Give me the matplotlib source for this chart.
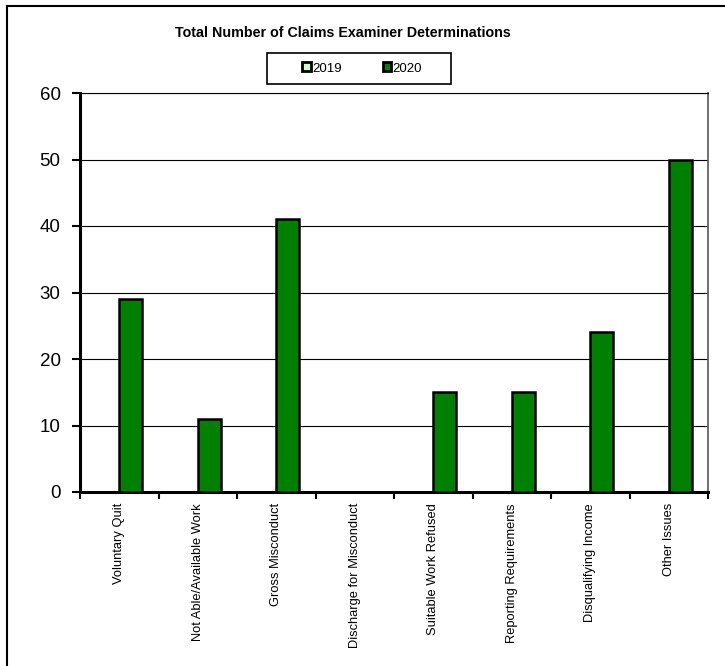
import numpy as np
import matplotlib
matplotlib.use("Agg")
import matplotlib.pyplot as plt
from matplotlib.patches import Rectangle, Patch
from matplotlib.lines import Line2D

plt.rcParams['font.family'] = ['Liberation Sans', 'DejaVu Sans']

categories = ['Voluntary Quit', 'Not Able/Available Work', 'Gross Misconduct',
              'Discharge for Misconduct', 'Suitable Work Refused',
              'Reporting Requirements', 'Disqualifying Income', 'Other Issues']
vals_2019 = [0, 0, 0, 0, 0, 0, 0, 0]
vals_2020 = [29, 11, 41, 0, 15, 15, 24, 50]
years = ['2019', '2020']
colors = ['#ccffcc', '#008000']

fig = plt.figure(figsize=(7.25, 6.66), dpi=100)
ax = fig.add_axes([80 / 725, 1 - 492 / 666, 628 / 725, 399 / 666])

x = np.arange(len(categories))
w = 0.29
ax.bar(x - w / 2, vals_2019, w, color=colors[0], edgecolor='black', linewidth=1.8, zorder=3)
ax.bar(x + w / 2, vals_2020, w, color=colors[1], edgecolor='black', linewidth=1.8, zorder=3)

ax.set_xlim(-0.5, len(categories) - 0.5)
ax.set_ylim(0, 60)
ax.set_yticks(range(0, 61, 10))
ax.yaxis.grid(True, color='black', linewidth=0.8, zorder=0)
ax.tick_params(axis='y', direction='out', length=6, width=1.5, pad=8, labelsize=13.5)

ax.set_xticks(x)
ax.set_xticklabels(categories, rotation=90, fontsize=9.3)
ax.tick_params(axis='x', length=0, pad=8)
ax.set_xticks(np.arange(-0.5, len(categories)), minor=True)
ax.tick_params(axis='x', which='minor', direction='out', length=5, width=1.5)

for side in ['left', 'bottom']:
    ax.spines[side].set_linewidth(2.2)
ax.spines['right'].set_linewidth(1.2)
ax.spines['right'].set_color('#555555')
ax.spines['top'].set_linewidth(0.8)

fig.text(343 / 725, 1 - 33 / 666, 'Total Number of Claims Examiner Determinations',
         ha='center', va='center', fontsize=10.3, fontweight='bold')

# legend box
fig.patches.append(Rectangle((267 / 725, 1 - 84 / 666), 184 / 725, 31 / 666,
                             transform=fig.transFigure, facecolor='white',
                             edgecolor='black', linewidth=1.2))
handles = [Patch(facecolor=c, edgecolor='black', linewidth=2) for c in colors]
fig.legend(handles, years, loc='center', bbox_to_anchor=(362 / 725, 1 - 68.5 / 666),
           ncol=2, frameon=False, fontsize=9.5, handlelength=0.65, handleheight=0.65,
           handletextpad=0.1, columnspacing=3.1)

# outer frame (left and top edges)
fig.add_artist(Line2D([7 / 725, 7 / 725], [0, 1 - 6 / 666], transform=fig.transFigure,
                      color='black', linewidth=1.5))
fig.add_artist(Line2D([7 / 725, 1], [1 - 6 / 666, 1 - 6 / 666], transform=fig.transFigure,
                      color='black', linewidth=1.5))

fig.savefig('out.png', dpi=100)
